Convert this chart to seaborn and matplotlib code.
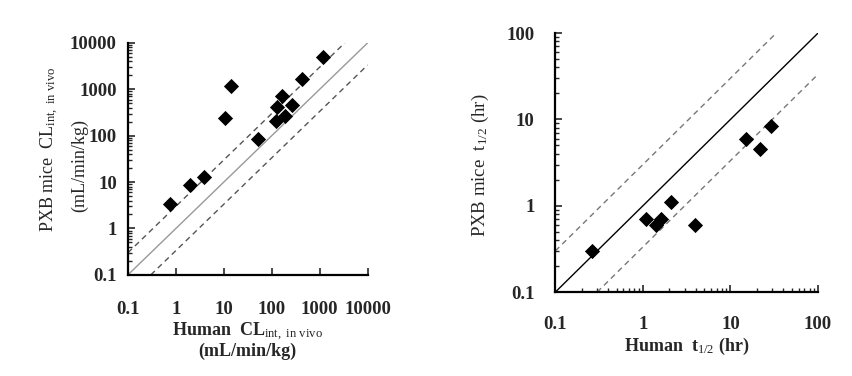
import numpy as np
import pandas as pd
import matplotlib
matplotlib.use("Agg")
import matplotlib.pyplot as plt
import seaborn as sns
from matplotlib.ticker import LogLocator, FixedLocator, FixedFormatter, NullFormatter

# left panel: CLint, in vivo (mL/min/kg)
cl_human = [0.75, 2.0, 3.8, 10.5, 14, 51, 125, 130, 160, 190, 260, 420, 1150]
cl_pxb = [3.3, 8.5, 13, 240, 1200, 85, 210, 420, 700, 270, 450, 1700, 5000]
cl_ticks = [0.1, 1, 10, 100, 1000, 10000]
cl_labels = ["0.1", "1", "10", "100", "1000", "10000"]

# right panel: t1/2 (hr)
t_human = [0.26, 1.08, 1.4, 1.6, 2.1, 3.9, 15, 22, 29]
t_pxb = [0.30, 0.70, 0.60, 0.70, 1.1, 0.60, 6.0, 4.5, 8.3]
t_ticks = [0.1, 1, 10, 100]
t_labels = ["0.1", "1", "10", "100"]

sns.set_style("ticks")
plt.rcParams["font.family"] = ["Liberation Serif", "DejaVu Serif"]
plt.rcParams["mathtext.fontset"] = "custom"
plt.rcParams["mathtext.rm"] = "Liberation Serif"
plt.rcParams["mathtext.it"] = "Liberation Serif"
plt.rcParams["mathtext.bf"] = "Liberation Serif:bold"

fig = plt.figure(figsize=(8.53, 3.76), dpi=100)
ax1 = fig.add_axes([0.150, 0.269, 0.281, 0.617])
ax2 = fig.add_axes([0.651, 0.223, 0.308, 0.689])


def style_axis(ax, lo, hi, ticks, labels, xpad, ypad):
    ax.set_xscale("log")
    ax.set_yscale("log")
    ax.set_xlim(lo, hi)
    ax.set_ylim(lo, hi)
    for s in ["top", "right"]:
        ax.spines[s].set_visible(False)
    for s in ["left", "bottom"]:
        ax.spines[s].set_linewidth(1.6)
        ax.spines[s].set_color("black")
    for axis in [ax.xaxis, ax.yaxis]:
        axis.set_major_locator(FixedLocator(ticks))
        axis.set_major_formatter(FixedFormatter(labels))
        axis.set_minor_locator(LogLocator(base=10, subs=np.arange(2, 10)))
        axis.set_minor_formatter(NullFormatter())
    ax.tick_params(which="major", direction="in", length=5, width=1.2, labelsize=13.5)
    ax.tick_params(which="minor", direction="in", length=3, width=1.0)
    ax.tick_params(axis="x", pad=xpad)
    ax.tick_params(axis="y", pad=ypad)
    for lab in ax.get_xticklabels() + ax.get_yticklabels():
        lab.set_fontweight("bold")


# left panel
line_x = [0.1, 10000]
ax1.plot(line_x, line_x, color="#999999", lw=1.0)
ax1.plot([0.1, 10000 / 3], [0.3, 10000], color="#555555", lw=1.0, ls=(0, (4, 3)))
ax1.plot([0.3, 10000], [0.1, 10000 / 3], color="#555555", lw=1.0, ls=(0, (4, 3)))
df1 = pd.DataFrame({"human": cl_human, "pxb": cl_pxb})
sns.scatterplot(data=df1, x="human", y="pxb", ax=ax1, marker="D", color="black",
                s=60, edgecolor="black", linewidth=0, zorder=5)
style_axis(ax1, 0.1, 10000, cl_ticks, cl_labels, xpad=19, ypad=8)
ax1.set_xlabel("Human  CL$_{\\mathrm{int,\\ in\\ vivo}}$\n(mL/min/kg)", fontsize=13,
               fontweight="bold", labelpad=2, linespacing=0.95)
# y label as two separate lines, placed like the original
ax1.set_ylabel("PXB mice  CL$_{\\mathrm{int,\\ in\\ vivo}}$", fontsize=13)
ax1.yaxis.set_label_coords(-0.28, 0.54)
ax1.text(-0.2, 0.47, "(mL/min/kg)", transform=ax1.transAxes, rotation=90,
         ha="center", va="center", fontsize=13)

# right panel
line_t = [0.1, 100]
ax2.plot(line_t, line_t, color="black", lw=1.0)
ax2.plot([0.1, 100 / 3], [0.3, 100], color="#777777", lw=1.0, ls=(0, (4, 3)))
ax2.plot([0.3, 100], [0.1, 100 / 3], color="#777777", lw=1.0, ls=(0, (4, 3)))
df2 = pd.DataFrame({"human": t_human, "pxb": t_pxb})
sns.scatterplot(data=df2, x="human", y="pxb", ax=ax2, marker="D", color="black",
                s=60, edgecolor="black", linewidth=0, zorder=5)
style_axis(ax2, 0.1, 100, t_ticks, t_labels, xpad=17, ypad=15)
ax2.set_xlabel("Human  t$_{1/2}$ (hr)", fontsize=13, fontweight="bold", labelpad=2)
ax2.set_ylabel("PXB mice  t$_{1/2}$ (hr)", fontsize=13.5)
ax2.yaxis.set_label_coords(-0.245, 0.49)

fig.savefig("out.png", dpi=100)
